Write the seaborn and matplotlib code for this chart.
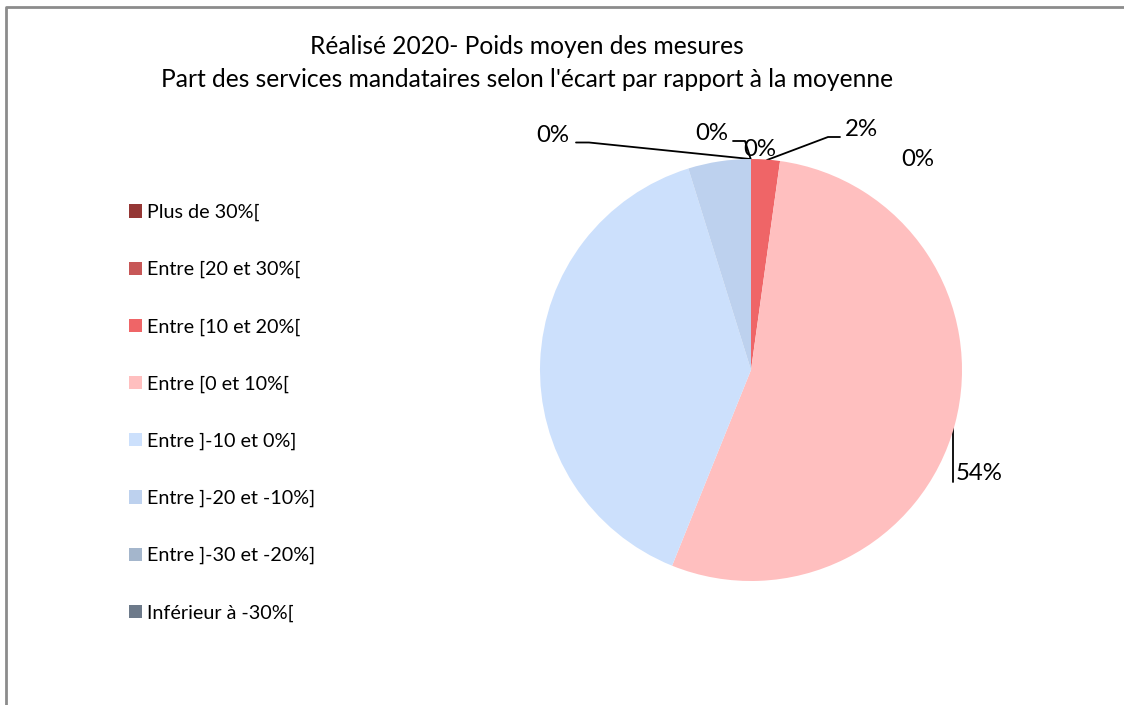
import matplotlib
matplotlib.use('Agg')
import matplotlib.pyplot as plt
import seaborn as sns

sns.set_theme(style='white')
plt.rcParams['font.family'] = ['Lato', 'DejaVu Sans']
plt.rcParams['text.color'] = 'black'

# --- donnees ---
categories = ['Plus de 30%[', 'Entre [20 et 30%[', 'Entre [10 et 20%[', 'Entre [0 et 10%[',
              'Entre ]-10 et 0%]', 'Entre ]-20 et -10%]', 'Entre ]-30 et -20%]', 'Inférieur à -30%[']
parts = [0.0, 0.0, 2.2, 53.9, 39.1, 4.8, 0.0, 0.0]
couleurs = ['#953735', '#C75757', '#EF6567', '#FFBFBF', '#CCE0FC', '#BDD1EE', '#A4B6CC', '#6D7A8A']

titre = "Réalisé 2020- Poids moyen des mesures\nPart des services mandataires selon l'écart par rapport à la moyenne"

W, H = 1124, 705
fig = plt.figure(figsize=(W / 100, H / 100), dpi=100)
ax = fig.add_axes([0, 0, 1, 1])
ax.set_xlim(0, W)
ax.set_ylim(H, 0)
ax.axis('off')

# cadre gris (gauche + haut)
ax.plot([5.5, 5.5, W], [H, 6.5, 6.5], color='#8c8c8c', lw=2, solid_capstyle='butt')

# pie dans un axe a part (y vers le haut pour garder le sens horaire)
cx, cy, r = 751, 370, 211
pax = fig.add_axes([(cx - r) / W, 1 - (cy + r) / H, 2 * r / W, 2 * r / H])
wedges, _ = pax.pie(parts, colors=couleurs, startangle=90, counterclock=False,
                    wedgeprops=dict(linewidth=0))
pax.set_xlim(-1, 1)
pax.set_ylim(-1, 1)
pax.set_aspect('auto')
pax.axis('off')

# etiquettes (positions en pixels)
lbl = [f"{round(v):.0f}%" for v in parts]
pos = {0: (760, 150), 1: (918, 160), 2: (861, 130), 3: (979, 473),
       4: (575, 365), 5: (724, 192), 6: (712, 133), 7: (553, 135)}
for i, (x, y) in pos.items():
    ax.text(x, y, lbl[i], ha='center', va='center', fontsize=17.3)

# lignes de rappel
ax.plot([576, 589, 750], [142.5, 142.5, 159], color='black', lw=1.3)
ax.plot([733, 745, 751], [141, 141, 160], color='black', lw=1.3)
ax.plot([840, 828, 767], [137, 137, 160], color='black', lw=1.3)
ax.plot([953, 953], [427, 482], color='black', lw=1.3)

# titre
ax.text(527, 63, titre, ha='center', va='center', fontsize=17.7, linespacing=1.5)

# legende
leg = ax.legend(wedges, categories, loc='upper left', bbox_to_anchor=(121 / W, 1 - 196 / H),
                frameon=False, fontsize=14.2, handlelength=0.65, handleheight=0.65,
                handletextpad=0.25, labelspacing=2.02, borderaxespad=0)

plt.savefig('out.png', dpi=100)
plt.close()
